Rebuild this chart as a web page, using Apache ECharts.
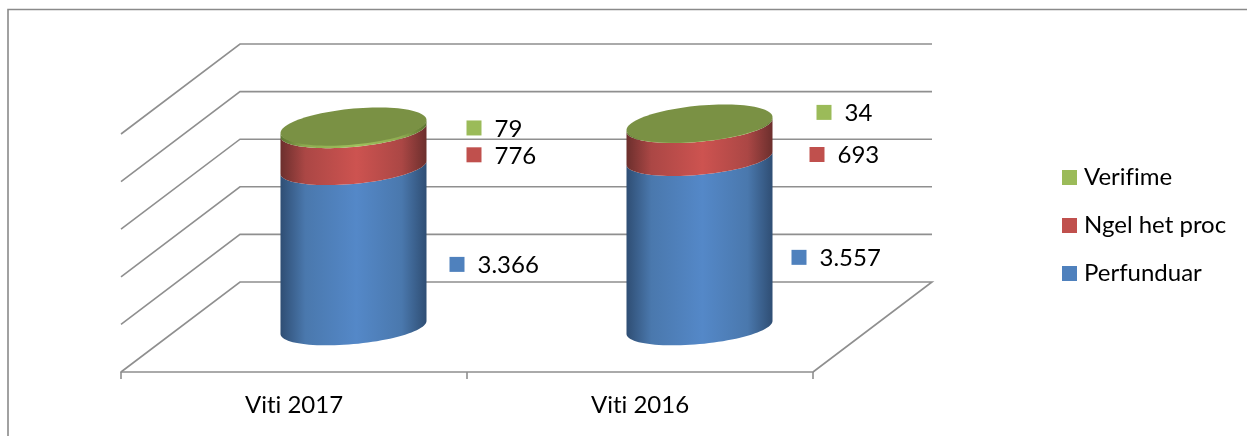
<!DOCTYPE html>
<html>
<head>
<meta charset="utf-8">
<style>html,body{margin:0;padding:0;background:#fff}#c{width:1247px;height:436px}</style>
<script src="https://cdn.jsdelivr.net/npm/echarts@6/dist/echarts.min.js"></script>
</head>
<body>
<div id="c"></div>
<script>
const categories = ['Viti 2017', 'Viti 2016'];
const perfunduar = [3366, 3557];
const ngelHetProc = [776, 693];
const verifime = [79, 34];
const axisTicks = [0, 1000, 2000, 3000, 4000, 5000];

// label placement, relative to the cylinder axis and the segment midpoint: [dx, dy]
const labelOffsetsPerfunduar = [[96, 17], [92, 14.5]];
const labelOffsetsNgel = [[113, 6], [110, 12.8]];
const labelOffsetsVerifime = [[113, -0.5], [117, -12]];

// plain glyph shaping (no ligatures), as in the reference text
['fillText', 'measureText'].forEach(function (m) {
  const orig = CanvasRenderingContext2D.prototype[m];
  CanvasRenderingContext2D.prototype[m] = function () {
    this.textRendering = 'optimizeSpeed';
    return orig.apply(this, arguments);
  };
});

const FONT = 'Lato, "Open Sans", sans-serif';
const FONT_SIZE = 24;
const GRID_COLOR = '#8f8f8f';
const DEPTH_X = 119, DEPTH_Y = 90;
const CYL_SHIFT_X = 59.5, CYL_SHIFT_Y = 44.5;
const RX_FRAC = 0.211, RY_FRAC = 0.048, CAP_RY_FRAC = 0.052, SHEAR = 0.089;

const fmt = v => String(v).replace(/\B(?=(\d{3})+$)/g, '.');

function arc(cx, cy, rx, ry, from, to, n) {
  const out = [];
  for (let i = 0; i <= n; i++) {
    const t = from + (to - from) * i / n;
    out.push([cx + rx * Math.cos(t), cy + ry * Math.sin(t) - SHEAR * rx * Math.cos(t)]);
  }
  return out;
}

function hGrad(dark, mid, peak) {
  return new echarts.graphic.LinearGradient(0, 0, 1, 0, [
    { offset: 0, color: dark },
    { offset: 0.17, color: mid },
    { offset: 0.52, color: peak },
    { offset: 0.83, color: mid },
    { offset: 1, color: dark }
  ]);
}

function segmentSeries(name, color, values, bases, offsets, side, capColor) {
  return {
    name, type: 'custom', coordinateSystem: 'cartesian2d',
    itemStyle: { color }, z: 5,
    data: values.map((v, i) => [i, bases[i], v, offsets[i][0], offsets[i][1]]),
    encode: { x: 0, y: 1 },
    renderItem(params, api) {
      const i = api.value(0), base = api.value(1), v = api.value(2);
      const band = api.size([1, 0])[0];
      const rx = band * RX_FRAC, ry = band * RY_FRAC;
      const lo = api.coord([i, base]), hi = api.coord([i, base + v]), mid = api.coord([i, base + v / 2]);
      const cx = lo[0] + CYL_SHIFT_X, yLo = lo[1] - CYL_SHIFT_Y, yHi = hi[1] - CYL_SHIFT_Y;
      const points = arc(cx, yLo, rx, ry, 0, Math.PI, 48).concat(arc(cx, yHi, rx, ry, Math.PI, 0, 48));
      const children = [{
        type: 'polygon', shape: { points },
        style: { fill: hGrad(side[0], side[1], side[2]) }
      }];
      if (capColor) {
        children.push({
          type: 'polygon', shape: { points: arc(cx, yHi, rx, band * CAP_RY_FRAC, 0, Math.PI * 2, 96) },
          style: { fill: capColor }
        });
      }
      const lx = cx + api.value(3), ly = mid[1] - CYL_SHIFT_Y + api.value(4);
      children.push({
        type: 'rect', shape: { x: lx, y: ly - 7.5, width: 15, height: 15 },
        style: { fill: color }, z2: 20
      });
      children.push({
        type: 'text', z2: 20,
        style: {
          x: lx + 28, y: ly + 1, text: fmt(v), fill: '#000',
          font: FONT_SIZE + 'px ' + FONT, textAlign: 'left', textVerticalAlign: 'middle'
        }
      });
      return { type: 'group', children };
    }
  };
}

const baseNgel = perfunduar.slice();
const baseVerifime = perfunduar.map((v, i) => v + ngelHetProc[i]);

const wallSeries = {
  type: 'custom', coordinateSystem: 'cartesian2d', z: 1, silent: true,
  data: axisTicks.map(t => [0, t]),
  encode: { x: 0, y: 1 },
  renderItem(params, api) {
    const band = api.size([1, 0])[0];
    const p = api.coord([0, api.value(1)]);
    const x0 = p[0] - band / 2, x1 = x0 + band * categories.length, y = p[1];
    const pts = [[x0, y], [x0 + DEPTH_X, y - DEPTH_Y], [x1 + DEPTH_X, y - DEPTH_Y]];
    if (api.value(1) === 0) pts.push([x1, y]);
    return {
      type: 'polyline', shape: { points: pts },
      style: { stroke: GRID_COLOR, lineWidth: 1.6, fill: null }
    };
  }
};

const chart = echarts.init(document.getElementById('c'), null, { renderer: 'canvas' });
chart.setOption({
  animation: false,
  backgroundColor: '#fff',
  grid: { left: 121, top: 134, width: 692, height: 238, containLabel: false },
  xAxis: {
    type: 'category', data: categories, boundaryGap: true,
    axisLine: { show: true, lineStyle: { color: GRID_COLOR, width: 1.6 } },
    axisTick: { show: true, length: 7, alignWithLabel: false, lineStyle: { color: GRID_COLOR, width: 1.6 } },
    axisLabel: { color: '#000', fontFamily: FONT, fontSize: FONT_SIZE, margin: 21, interval: 0 }
  },
  yAxis: {
    type: 'value', min: 0, max: 5000, interval: 1000,
    axisLine: { show: false }, axisTick: { show: false },
    axisLabel: { show: false }, splitLine: { show: false }
  },
  legend: {
    orient: 'vertical', left: 1062, top: 165.5, padding: 0,
    data: ['Verifime', 'Ngel het proc', 'Perfunduar'],
    icon: 'rect', itemWidth: 15, itemHeight: 15, itemGap: 24, selectedMode: false,
    textStyle: { color: '#000', fontFamily: FONT, fontSize: FONT_SIZE, padding: [0, 0, 0, 2] }
  },
  graphic: [{
    type: 'polyline', silent: true,
    shape: { points: [[8, 436], [8, 9.5], [1247, 9.5]] },
    style: { stroke: '#8a8a8a', lineWidth: 1.6, fill: null }
  }],
  series: [
    wallSeries,
    segmentSeries('Perfunduar', '#4f81bd', perfunduar, perfunduar.map(() => 0), labelOffsetsPerfunduar,
      ['#2f4e74', '#4a78ad', '#5488c8']),
    segmentSeries('Ngel het proc', '#c0504d', ngelHetProc, baseNgel, labelOffsetsNgel,
      ['#6c2f2d', '#ab4745', '#cd5350']),
    segmentSeries('Verifime', '#9bbb59', verifime, baseVerifime, labelOffsetsVerifime,
      ['#5d7530', '#8eab50', '#9fc05c'], '#7a9144')
  ]
});
</script>
</body>
</html>
